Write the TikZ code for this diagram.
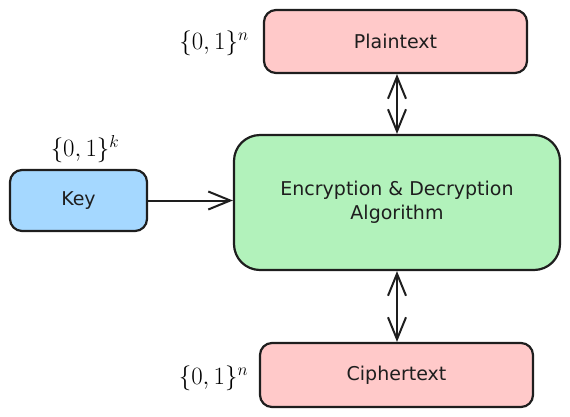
\documentclass[tikz,border=0pt]{standalone}
\usepackage{fontspec}
\setmainfont{DejaVu Sans}
\usetikzlibrary{arrows.meta}
\definecolor{pinkfill}{HTML}{FFC9C9}
\definecolor{greenfill}{HTML}{B2F2BB}
\definecolor{bluefill}{HTML}{A5D8FF}
\definecolor{ink}{HTML}{1E1E1E}
\begin{document}
\begin{tikzpicture}[x=1pt,y=-1pt,
  box/.style={draw=ink, line width=2.2pt, inner sep=0pt, align=center,
    font=\fontsize{19}{24}\selectfont, text=ink},
  setlabel/.style={inner sep=0pt, font=\fontsize{24.5}{29}\selectfont},
  conn/.style={draw=ink, line width=2pt,
    -{Straight Barb[length=22pt,width=18pt,line width=2pt]}},
  biconn/.style={draw=ink, line width=2pt,
    {Straight Barb[length=22pt,width=18pt,line width=2pt]}-{Straight Barb[length=22pt,width=18pt,line width=2pt]}}
]
\useasboundingbox (0,0) rectangle (570,416);
\node[box, fill=pinkfill, rounded corners=12pt, minimum width=263pt, minimum height=63pt] (pt) at (395.5,41.5) {Plaintext};
\node[box, fill=greenfill, rounded corners=26pt, minimum width=326pt, minimum height=135pt] (alg) at (397,202.5) {Encryption \& Decryption\\Algorithm};
\node[box, fill=pinkfill, rounded corners=12pt, minimum width=273pt, minimum height=64pt] (ct) at (396.5,375) {Ciphertext};
\node[box, fill=bluefill, rounded corners=12pt, minimum width=137pt, minimum height=61pt] (key) at (78.5,200.5) {Key};
\node[setlabel, anchor=center] (lpt) at (214,43) {$\{0,1\}^n$};
\node[setlabel, anchor=center] (lkey) at (85,149) {$\{0,1\}^k$};
\node[setlabel, anchor=center] (lct) at (213.5,378) {$\{0,1\}^n$};
\draw[conn] (key.east) -- (key.east -| alg.west);
\draw[biconn] (alg.north |- pt.south) -- (alg.north);
\draw[biconn] (alg.south) -- (alg.south |- ct.north);
\end{tikzpicture}
\end{document}
